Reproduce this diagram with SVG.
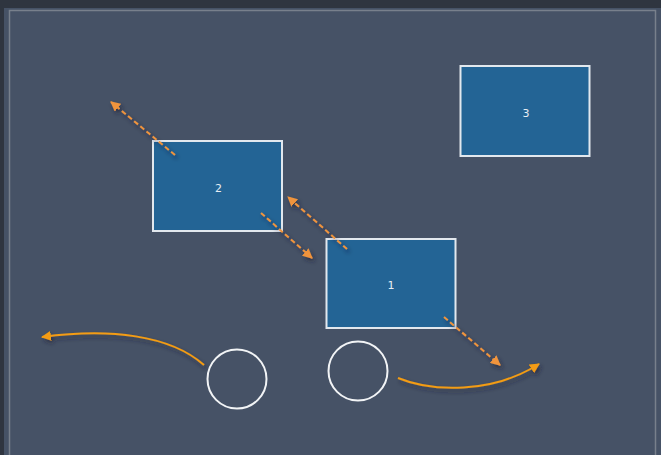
<svg xmlns="http://www.w3.org/2000/svg" width="661" height="455" viewBox="0 0 661 455">
<style>
.node rect{fill:#236495;stroke:#e2e8ee;stroke-width:2}
.lbl{font-family:"DejaVu Sans",sans-serif;font-size:11px;fill:#e8eef4;text-anchor:middle;dominant-baseline:central}
.circ{fill:none;stroke:#f2f4f6;stroke-width:2}
.dash{fill:none;stroke:#f0943c;stroke-width:2;stroke-dasharray:5 3}
.curve{fill:none;stroke:#f39c12;stroke-width:2}
</style>
<defs>
<filter id="sh" x="-20%" y="-20%" width="140%" height="140%">
<feDropShadow dx="2" dy="3" stdDeviation="2" flood-color="#1c2330" flood-opacity="0.6"/>
</filter>
<marker id="ad" viewBox="0 0 10 10" refX="9" refY="5" markerWidth="5" markerHeight="5" orient="auto" markerUnits="strokeWidth">
<path d="M0,0 L10,5 L0,10 z" fill="#f0943c"/>
</marker>
<marker id="ac" viewBox="0 0 10 10" refX="9" refY="5" markerWidth="5" markerHeight="5" orient="auto" markerUnits="strokeWidth">
<path d="M0,0 L10,5 L0,10 z" fill="#f39c12"/>
</marker>
</defs>
<rect x="0" y="0" width="661" height="455" fill="#2f3540"/>
<rect x="4" y="8" width="657" height="447" fill="#465266"/>
<rect x="9.5" y="10.5" width="646" height="450" fill="none" stroke="#78808c" stroke-width="1.5"/>
<g id="node-2" class="node"><rect x="153" y="141" width="129" height="90"/><text class="lbl" x="218.5" y="188">2</text></g>
<g id="node-1" class="node"><rect x="326.5" y="239" width="129" height="89"/><text class="lbl" x="391" y="285">1</text></g>
<g id="node-3" class="node"><rect x="460.5" y="66" width="129" height="90"/><text class="lbl" x="526" y="113">3</text></g>
<g id="circle-a"><circle class="circ" cx="237" cy="379" r="29.5"/></g>
<g id="circle-b"><circle class="circ" cx="358" cy="371" r="29.5"/></g>
<g id="connectors" filter="url(#sh)">
<path class="dash" d="M175,155 L111,102" marker-end="url(#ad)"/>
<path class="dash" d="M261,213 L312,258" marker-end="url(#ad)"/>
<path class="dash" d="M347,249 L288,197" marker-end="url(#ad)"/>
<path class="dash" d="M444,317 L500,365" marker-end="url(#ad)"/>
<path class="curve" d="M204,365 C170,335 110,328 42,337" marker-end="url(#ac)"/>
<path class="curve" d="M398,378 C432,392 492,394 539,364" marker-end="url(#ac)"/>
</g>
</svg>
